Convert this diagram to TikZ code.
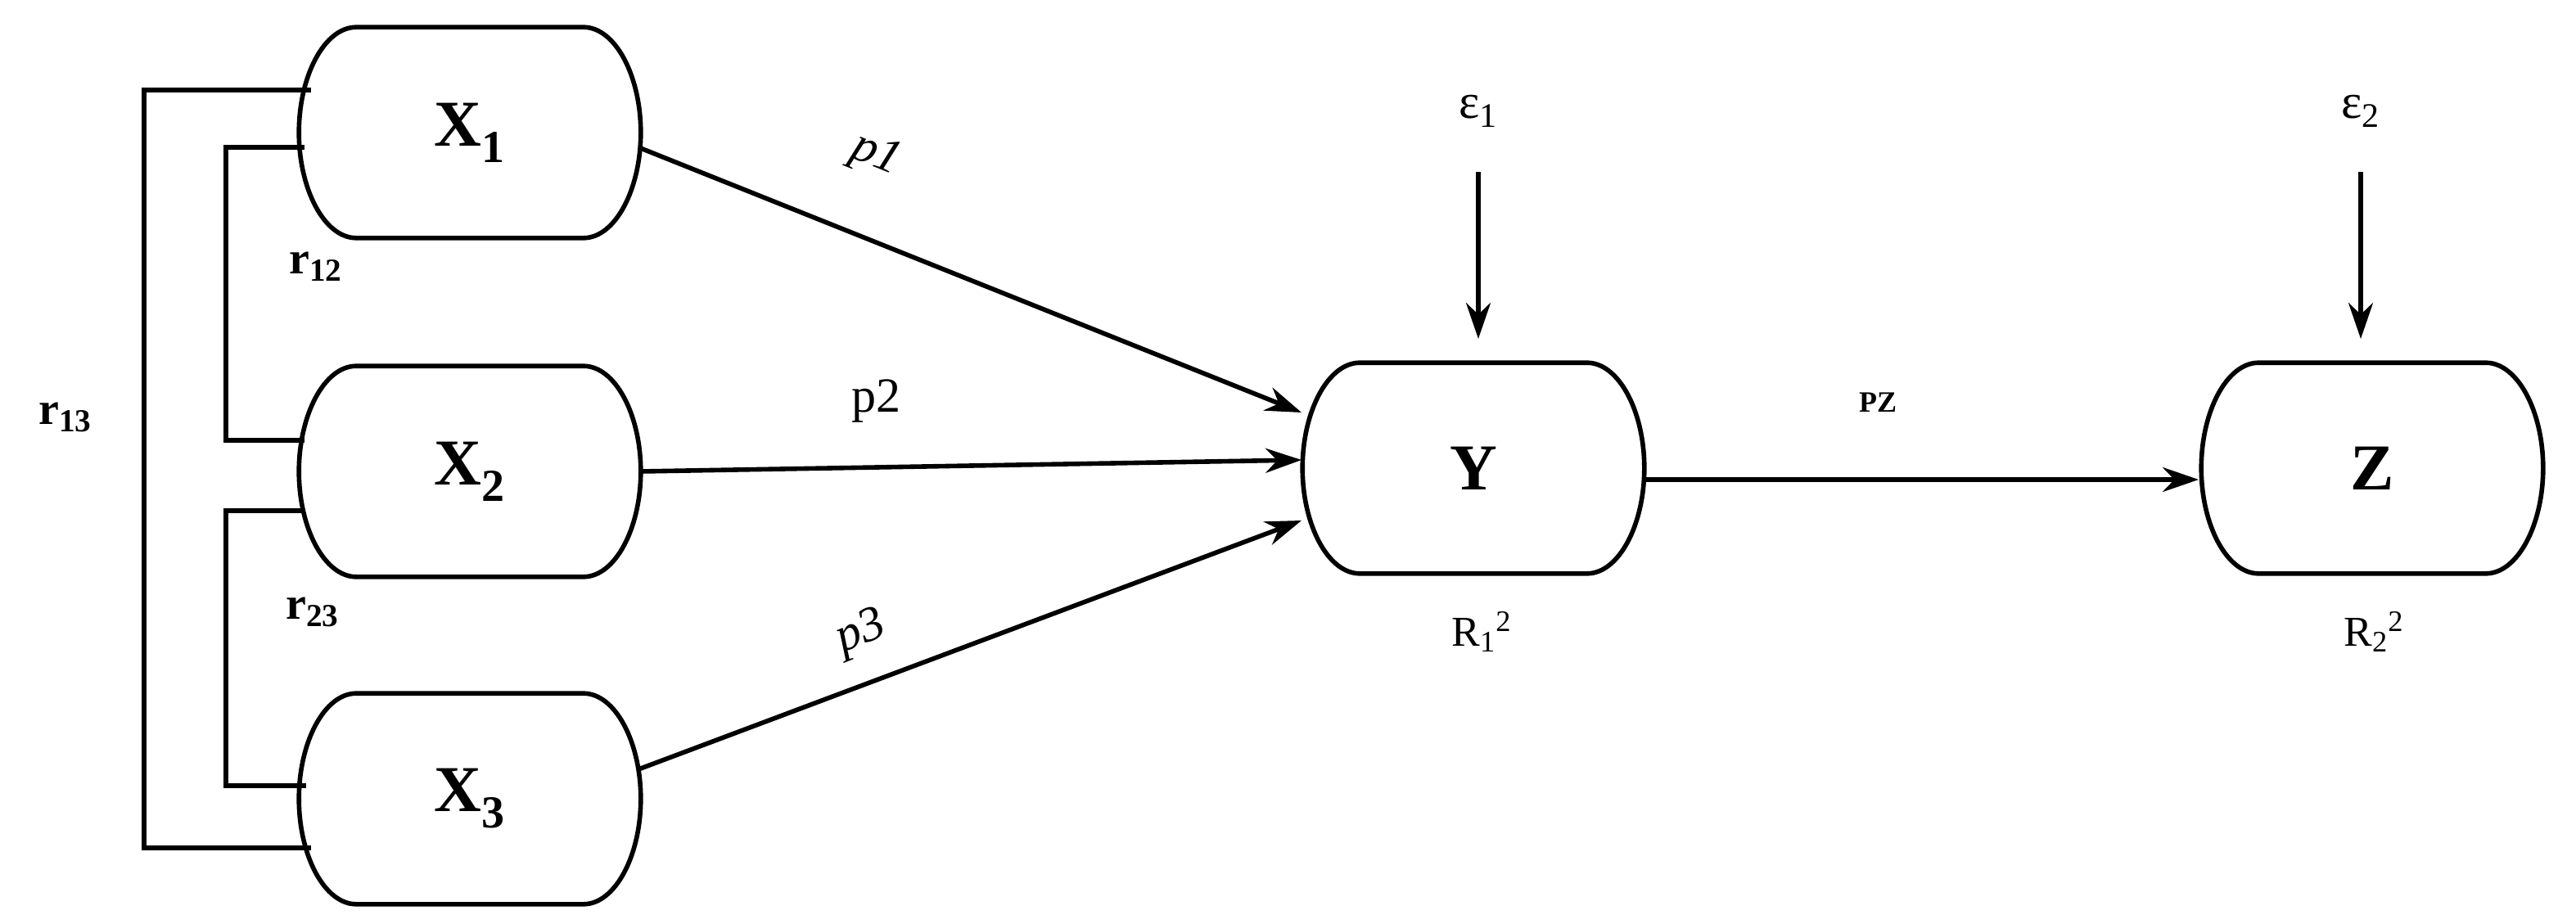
\documentclass[tikz,border=0pt]{standalone}
\usepackage{fontspec}
\setmainfont{Liberation Serif}
\usetikzlibrary{arrows.meta}
\newcommand\drawbox[1]{\draw ([xshift=35pt]#1.north west) -- ([xshift=-35pt]#1.north east)
  .. controls ([xshift=-15.7pt]#1.north east) and ([yshift=34.8pt]#1.east) .. (#1.east)
  .. controls ([yshift=-34.8pt]#1.east) and ([xshift=-15.7pt]#1.south east) .. ([xshift=-35pt]#1.south east)
  -- ([xshift=35pt]#1.south west)
  .. controls ([xshift=15.7pt]#1.south west) and ([yshift=-34.8pt]#1.west) .. (#1.west)
  .. controls ([yshift=34.8pt]#1.west) and ([xshift=15.7pt]#1.north west) .. ([xshift=35pt]#1.north west) -- cycle;}
\begin{document}
\begin{tikzpicture}[x=1pt,y=-1pt,line width=2.8pt,
  box/.style={rectangle,minimum width=206,minimum height=126,inner sep=0,font=\fontsize{40}{44}\selectfont\bfseries},
  arr/.style={-{Stealth[length=22pt,width=15pt]}},
  lab/.style={font=\fontsize{30}{34}\selectfont}]
\useasboundingbox (0,0) rectangle (1573.5,564.5);
\node[box] (X1) at (287,81) {X\textsubscript{1}};
\node[box] (X2) at (287,288) {X\textsubscript{2}};
\node[box] (X3) at (287,488) {X\textsubscript{3}};
\node[box] (Y) at (900,286) {Y};
\node[box] (Z) at (1449,286) {Z};
\drawbox{X1}\drawbox{X2}\drawbox{X3}\drawbox{Y}\drawbox{Z}
\coordinate (a1) at (190,55); \coordinate (a3) at (190,518);
\coordinate (b1) at (186,90); \coordinate (b2) at (186,269);
\coordinate (c2) at (186,312); \coordinate (c3) at (187,480);
\draw (a1) -- (88,55) -- (88,518) -- (a3);
\draw (b1) -- (138,90) -- (138,269) -- (b2);
\draw (c2) -- (138,312) -- (138,480) -- (c3);
\node[font=\fontsize{28}{30}\selectfont\bfseries] (r12) at (193,163) {r\textsubscript{12}};
\node[font=\fontsize{28}{30}\selectfont\bfseries] (r13) at (40,255) {r\textsubscript{13}};
\node[font=\fontsize{28}{30}\selectfont\bfseries] (r23) at (191,374) {r\textsubscript{23}};
\coordinate (y1) at (795,252); \coordinate (y2) at (795,281); \coordinate (y3) at (795,318);
\coordinate (s1) at (390,90); \coordinate (s3) at (390,470);
\draw[arr] (s1) -- (y1);
\draw[arr] (X2.east) -- (y2);
\draw[arr] (s3) -- (y3);
\node[lab,rotate=-22] (p1) at (535,95) {\textit{p1}};
\node[lab] (p2) at (535,245) {p2};
\node[lab,rotate=22] (p3) at (526,387) {\textit{p3}};
\node[lab] (e1) at (903,68) {ε\textsubscript{1}};
\node[lab] (e2) at (1442,68) {ε\textsubscript{2}};
\coordinate (e1b) at (903,105); \coordinate (e2b) at (1442,105);
\coordinate (e1t) at (903,207); \coordinate (e2t) at (1442,207);
\draw[arr] (e1b) -- (e1t);
\draw[arr] (e2b) -- (e2t);
\node[font=\fontsize{18}{20}\selectfont\bfseries] (pz) at (1147,246) {PZ};
\coordinate (ye) at (1003,293); \coordinate (ze) at (1343,293);
\draw[arr] (ye) -- (ze);
\node[font=\fontsize{26}{30}\selectfont] (R1) at (905,386) {R\textsubscript{1}\textsuperscript{2}};
\node[font=\fontsize{26}{30}\selectfont] (R2) at (1450,386) {R\textsubscript{2}\textsuperscript{2}};
\end{tikzpicture}
\end{document}
